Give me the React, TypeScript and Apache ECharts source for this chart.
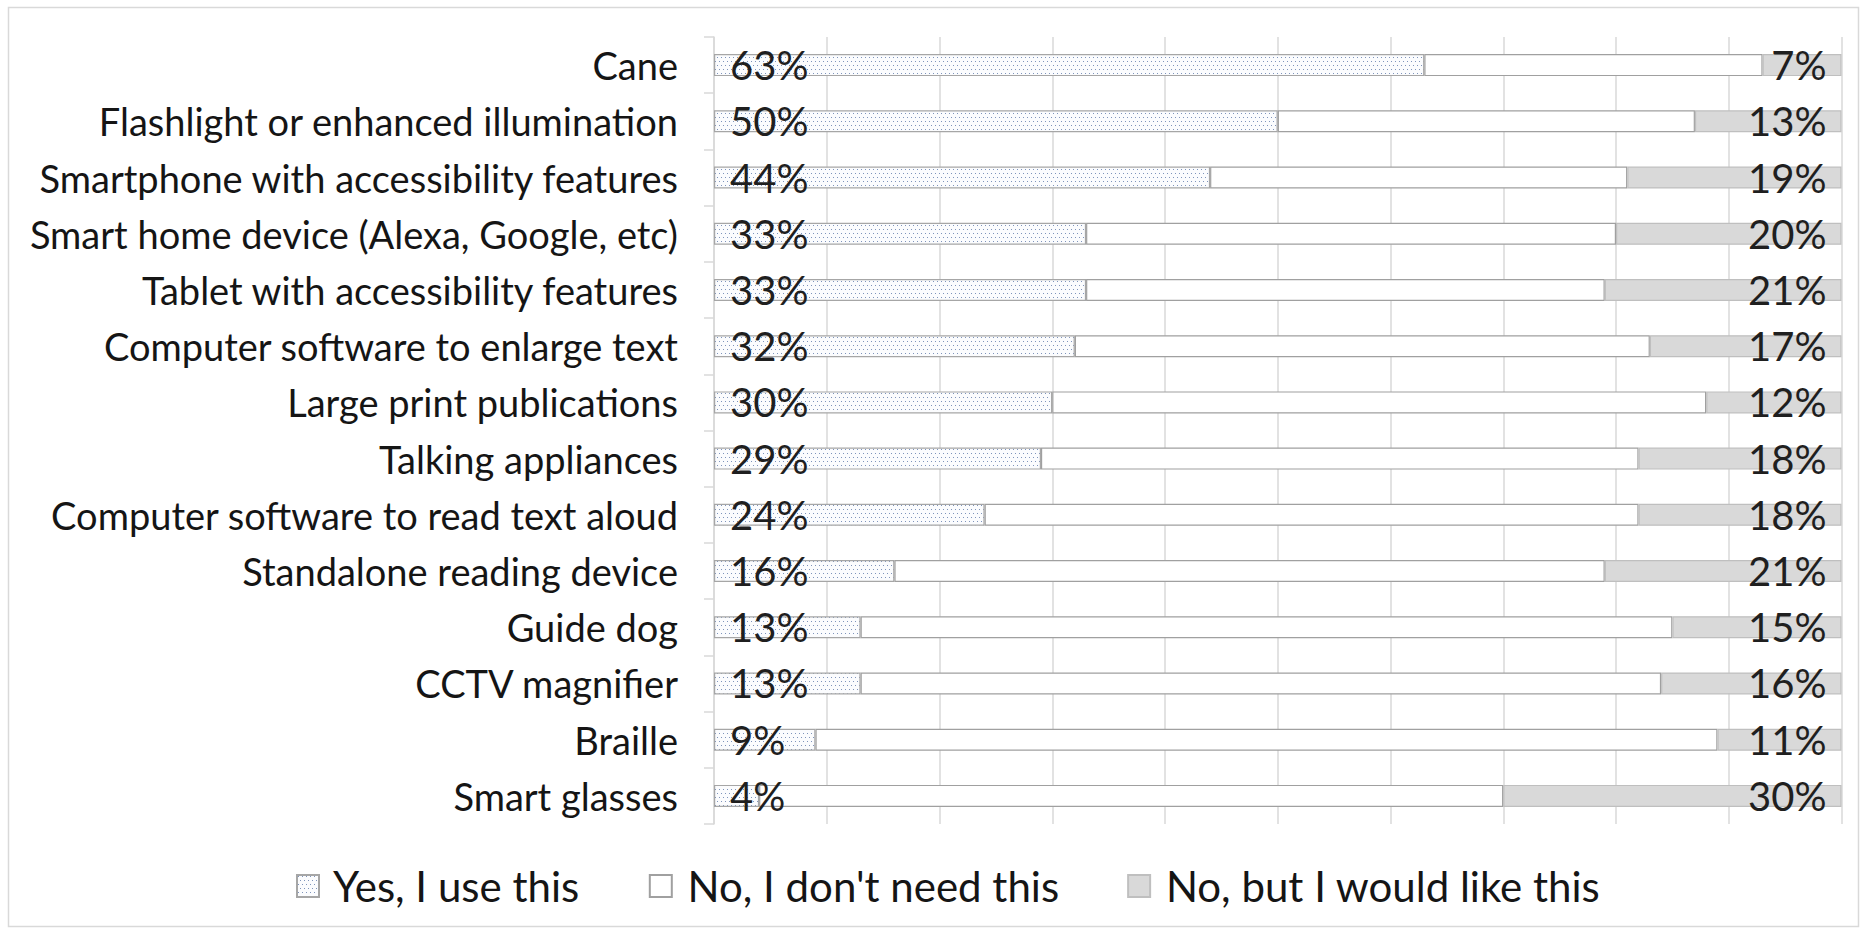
import React, { useEffect, useRef } from "react";
import * as echarts from "echarts";

const categories = [
  "Cane",
  "Flashlight or enhanced illumination",
  "Smartphone with accessibility features",
  "Smart home device (Alexa, Google, etc)",
  "Tablet with accessibility features",
  "Computer software to enlarge text",
  "Large print publications",
  "Talking appliances",
  "Computer software to read text aloud",
  "Standalone reading device",
  "Guide dog",
  "CCTV magnifier",
  "Braille",
  "Smart glasses",
];

const yesUse = [63, 50, 44, 33, 33, 32, 30, 29, 24, 16, 13, 13, 9, 4];
const noNeed = [30, 37, 37, 47, 46, 51, 58, 53, 58, 63, 72, 71, 80, 66];
const wouldLike = [7, 13, 19, 20, 21, 17, 12, 18, 18, 21, 15, 16, 11, 30];

const seriesNames = ["Yes, I use this", "No, I don't need this", "No, but I would like this"];

const FONT = "Lato, 'Open Sans', sans-serif";

function makePattern(): HTMLCanvasElement {
  const c = document.createElement("canvas");
  c.width = 4;
  c.height = 8;
  const ctx = c.getContext("2d")!;
  ctx.fillStyle = "#fbfcfe";
  ctx.fillRect(0, 0, 4, 8);
  ctx.fillStyle = "#7f94bb";
  ctx.fillRect(1, 1, 1, 1);
  ctx.fillRect(3, 5, 1, 1);
  return c;
}

export default function App() {
  const ref = useRef<HTMLDivElement>(null);

  useEffect(() => {
    if (!ref.current) return;
    const chart = echarts.init(ref.current, null, { renderer: "svg" });
    const pattern = makePattern();

    const labelStyle = {
      show: true,
      formatter: "{c}%",
      fontFamily: FONT,
      fontSize: 40,
      color: "#1f1f1f",
    };

    chart.setOption({
      animation: false,
      backgroundColor: "#ffffff",
      graphic: [
        {
          type: "rect",
          shape: { x: 8.5, y: 7.5, width: 1850, height: 919 },
          style: { fill: "none", stroke: "#d9d9d9", lineWidth: 1.5 },
          silent: true,
        },
      ],
      grid: { left: 714, right: 26.5, top: 37, bottom: 108, containLabel: false },
      legend: {
        left: 291,
        top: 860,
        itemWidth: 22,
        itemHeight: 22,
        itemGap: 68,
        icon: "rect",
        formatter: (name: string) => " " + name,
        textStyle: { fontFamily: FONT, fontSize: 42, color: "#151515" },
        data: seriesNames,
      },
      xAxis: {
        type: "value",
        min: 0,
        max: 100,
        interval: 10,
        axisLabel: { show: false },
        axisLine: { show: false },
        axisTick: { show: false },
        splitLine: { show: true, lineStyle: { color: "#d9d9d9", width: 1.5 } },
      },
      yAxis: {
        type: "category",
        inverse: true,
        data: categories,
        axisLine: { show: true, lineStyle: { color: "#d9d9d9", width: 1.5 } },
        axisTick: { show: true, length: 10, lineStyle: { color: "#d9d9d9", width: 1.5 } },
        axisLabel: {
          margin: 36,
          fontFamily: FONT,
          fontSize: 38,
          color: "#151515",
        },
      },
      series: [
        {
          name: seriesNames[0],
          type: "bar",
          stack: "total",
          barWidth: 22,
          data: yesUse,
          itemStyle: {
            color: { image: pattern, repeat: "repeat" },
            borderColor: "#a6a6a6",
            borderWidth: 1.2,
          },
          label: { ...labelStyle, position: "insideLeft", distance: 16 },
        },
        {
          name: seriesNames[1],
          type: "bar",
          stack: "total",
          barWidth: 22,
          data: noNeed,
          itemStyle: { color: "#ffffff", borderColor: "#a0a0a0", borderWidth: 1.2 },
        },
        {
          name: seriesNames[2],
          type: "bar",
          stack: "total",
          barWidth: 22,
          data: wouldLike,
          itemStyle: { color: "#d9d9d9", borderColor: "#bfbfbf", borderWidth: 1.2 },
          label: { ...labelStyle, position: "insideRight", distance: 15 },
        },
      ],
    });

    return () => chart.dispose();
  }, []);

  return (
    <div
      ref={ref}
      style={{ position: "absolute", left: 0, top: 0, width: 1868, height: 932 }}
    />
  );
}
